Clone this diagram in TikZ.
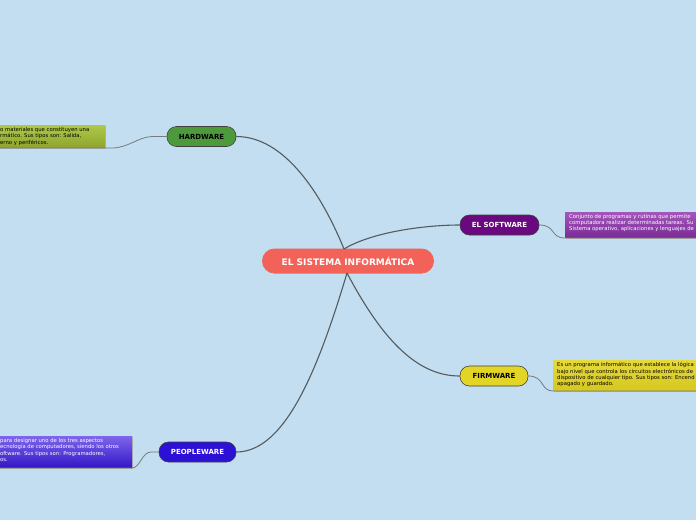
\documentclass[tikz,border=0pt]{standalone}
\usepackage{fontspec}
\setmainfont{DejaVu Sans}
\usetikzlibrary{calc}
\definecolor{bg}{HTML}{C2DEF0}
\definecolor{centerc}{HTML}{F26258}
\definecolor{hwc}{HTML}{4C9A3C}
\definecolor{swc}{HTML}{6A0880}
\definecolor{fwc}{HTML}{E3D526}
\definecolor{pwc}{HTML}{2B10D6}
\definecolor{hwt}{HTML}{B0C848}\definecolor{hwb}{HTML}{8EA62E}
\definecolor{swt}{HTML}{A456BC}\definecolor{swb}{HTML}{7C2C98}
\definecolor{fwt}{HTML}{E6DA3A}\definecolor{fwb}{HTML}{D6C820}
\definecolor{pwt}{HTML}{7E66EC}\definecolor{pwb}{HTML}{3418C8}
\definecolor{linec}{HTML}{555A5E}
\tikzset{
  topic/.style={draw=black!75, line width=0.6pt, rounded corners=9.5pt, minimum height=20pt,
    font=\fontsize{7}{7.5}\selectfont\bfseries, inner xsep=6pt},
  conn/.style={draw=linec, line width=1.1pt},
  subconn/.style={draw=linec!80, line width=0.8pt},
  notetxt/.style={font=\fontsize{5.3}{6.2}\selectfont, align=left, anchor=north west, inner sep=0pt},
}
\begin{document}
\begin{tikzpicture}[x=1pt,y=-1pt]
\fill[bg] (0,0) rectangle (696,520);
\useasboundingbox (0,0) rectangle (696,520);

% central
\node[fill=centerc, text=white, rounded corners=12.5pt, minimum width=172pt, minimum height=25pt,
  font=\fontsize{9}{9.5}\selectfont\bfseries] (c) at (348,261) {EL SISTEMA INFORMÁTICA};

% topics
\node[topic, fill=hwc, text=black, minimum width=69pt] (hw) at (201.5,136.5) {HARDWARE};
\node[topic, fill=swc, text=white, minimum width=79pt] (sw) at (499.5,225) {EL SOFTWARE};
\node[topic, fill=fwc, text=black, minimum width=68pt] (fw) at (494,376) {FIRMWARE};
\node[topic, fill=pwc, text=white, minimum width=77pt] (pw) at (197.5,452) {PEOPLEWARE};

\coordinate (cu) at (344,249);
\coordinate (cd) at (347,273);
\draw[conn] (cu) .. controls (322,195) and (285,136.5) .. (hw.east);
\draw[conn] (cu) .. controls (372,232) and (425,225) .. (sw.west);
\draw[conn] (cd) .. controls (385,345) and (420,376) .. (fw.west);
\draw[conn] (cd) .. controls (318,370) and (285,452) .. (pw.east);

% hardware note
\fill[black!30] (0,126) rectangle (106,149);
\shade[top color=hwt, bottom color=hwb] (0,125) rectangle (105,147);
\node[notetxt] (hwn) at (0,127.5) {o materiales que constituyen una\\rmático. Sus tipos son: Salida,\\erno y periféricos.};
\coordinate (hwa) at (105,148);
\coordinate (hwe) at (0,148);
\draw[subconn] (hw.west) -- (152,136.5) .. controls (138,137) and (128,148) .. (112,148) -- (hwa) -- (hwe);

% software note
\fill[black!30] (566,213) rectangle (696,238.5);
\shade[top color=swt, bottom color=swb] (565,212) rectangle (696,237);
\node[notetxt, text=white] (swn) at (569,214) {Conjunto de programas y rutinas que permite\\computadora realizar determinadas tareas. Su\\Sistema operativo, aplicaciones y lenguajes de};
\coordinate (swa) at (565,238);
\coordinate (swe) at (696,238);
\draw[subconn] (sw.east) .. controls (556,225) and (550,238) .. (swa) -- (swe);

% firmware note
\fill[black!30] (554,361) rectangle (696,391.5);
\shade[top color=fwt, bottom color=fwb] (553,360) rectangle (696,390);
\node[notetxt] (fwn) at (557,362.5) {Es un programa informático que establece la lógica\\bajo nivel que controla los circuitos electrónicos de\\dispositivo de cualquier tipo. Sus tipos son: Encend\\apagado y guardado.};
\coordinate (fwa) at (553,391);
\coordinate (fwe) at (696,391);
\draw[subconn] (fw.east) .. controls (545,376) and (540,391) .. (fwa) -- (fwe);

% peopleware note
\fill[black!30] (0,437) rectangle (133,469);
\shade[top color=pwt, bottom color=pwb] (0,436) rectangle (132,467);
\node[notetxt, text=white] (pwn) at (0,438.5) {para designar uno de los tres aspectos\\ecnología de computadores, siendo los otros\\oftware. Sus tipos son: Programadores,\\os.};
\coordinate (pwa) at (132,468);
\coordinate (pwe) at (0,468);
\draw[subconn] (pw.west) -- (151,452) .. controls (142,452) and (140,468) .. (pwa) -- (pwe);
\end{tikzpicture}
\end{document}
